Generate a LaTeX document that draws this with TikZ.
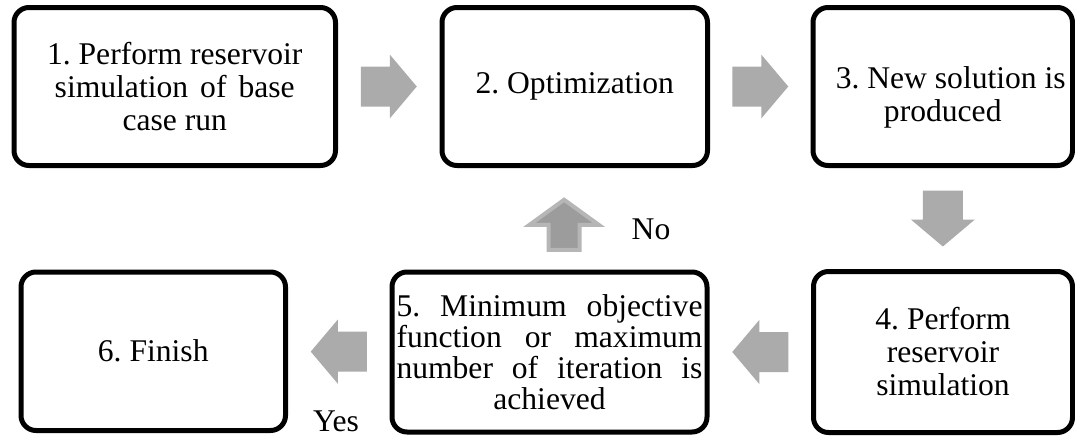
\documentclass[tikz,border=0pt]{standalone}
\usepackage{fontspec}
\setmainfont{Liberation Serif}
\usetikzlibrary{calc}
\frenchspacing
\definecolor{arrowgray}{RGB}{171,171,171}
\definecolor{uparrowfill}{RGB}{156,156,156}
\definecolor{uparrowrim}{RGB}{182,182,182}
\def\upx{0.75pt}
\tikzset{
  stepbox/.style={draw=black, line width=5*\upx, rounded corners=15*\upx,
    align=center, inner sep=0pt, font=\fontsize{23.7}{24.75}\selectfont},
  steptext/.style={align=center, inner sep=0pt, font=\fontsize{23.7}{24.75}\selectfont},
  flowlabel/.style={inner sep=0pt, font=\fontsize{23.7}{24.75}\selectfont},
  blockarrow/.pic={
    \fill[arrowgray] (-28,-20) -- (1,-20) -- (1,-32) -- (28,0) -- (1,32)
      -- (1,20) -- (-28,20) -- cycle;
  },
  rimarrow/.pic={
    \filldraw[fill=uparrowfill, draw=uparrowrim, line width=4*\upx, line join=miter]
      (-25,-15.5) -- (-0,-15.5) -- (-0,-34.5) -- (25,0) -- (-0,34.5)
      -- (-0,15.5) -- (-25,15.5) -- cycle;
  }
}
\begin{document}
\begin{tikzpicture}[x=0.75pt, y=-0.75pt]
  \useasboundingbox (0,0) rectangle (1075,436);

  % top row
  \node[stepbox, minimum width=321.5*\upx, minimum height=158*\upx] (b1) at (174.75,86.5)
    {1. Perform reservoir\\\makebox[180pt][s]{simulation of base}\\case run};
  \node[stepbox, minimum width=265.5*\upx, minimum height=158*\upx] (b2) at (574.75,86.5)
    {2. Optimization};
  \node[stepbox, minimum width=259.5*\upx, minimum height=158*\upx] (b3) at (942.75,86.5) {};
  \node[steptext] (b3t) at ($(b3.center)+(0,11)$)
    {\hspace*{12pt}3. New solution is\\produced};

  % bottom row
  \node[stepbox, minimum width=259*\upx, minimum height=161*\upx] (b4) at (943,352)
    {4. Perform\\reservoir\\simulation};
  \node[stepbox, minimum width=315*\upx, minimum height=160*\upx,
        font=\fontsize{23.7}{23.25}\selectfont] (b5) at (549.5,352)
    {\makebox[229.5pt][s]{5. Minimum objective}\\
     \makebox[229.5pt][s]{function or maximum}\\
     \makebox[229.5pt][s]{number of iteration is}\\
     achieved};
  \node[stepbox, minimum width=264.5*\upx, minimum height=158.5*\upx] (b6) at (153.25,351.25)
    {6. Finish};

  % block arrows between the steps
  \pic at ($(b1.east)!0.5!(b2.west)$) {blockarrow};
  \pic at ($(b2.east)!0.5!(b3.west)$) {blockarrow};
  \pic[rotate=-90] at ($(b3.south)!0.5!(b4.north)$) {blockarrow};
  \pic[rotate=180] at ($(b4.west)!0.5!(b5.east)$) {blockarrow};
  \pic[rotate=180] at ($(b5.west)!0.5!(b6.east)$) {blockarrow};
  \pic[rotate=90] at ($($(b2.south)!0.5!(b5.north)$)+(2,6)$) {rimarrow};

  % decision labels
  \node[flowlabel] (no) at (651,229) {No};
  \node[flowlabel] (yes) at (336,421) {Yes};
\end{tikzpicture}
\end{document}
